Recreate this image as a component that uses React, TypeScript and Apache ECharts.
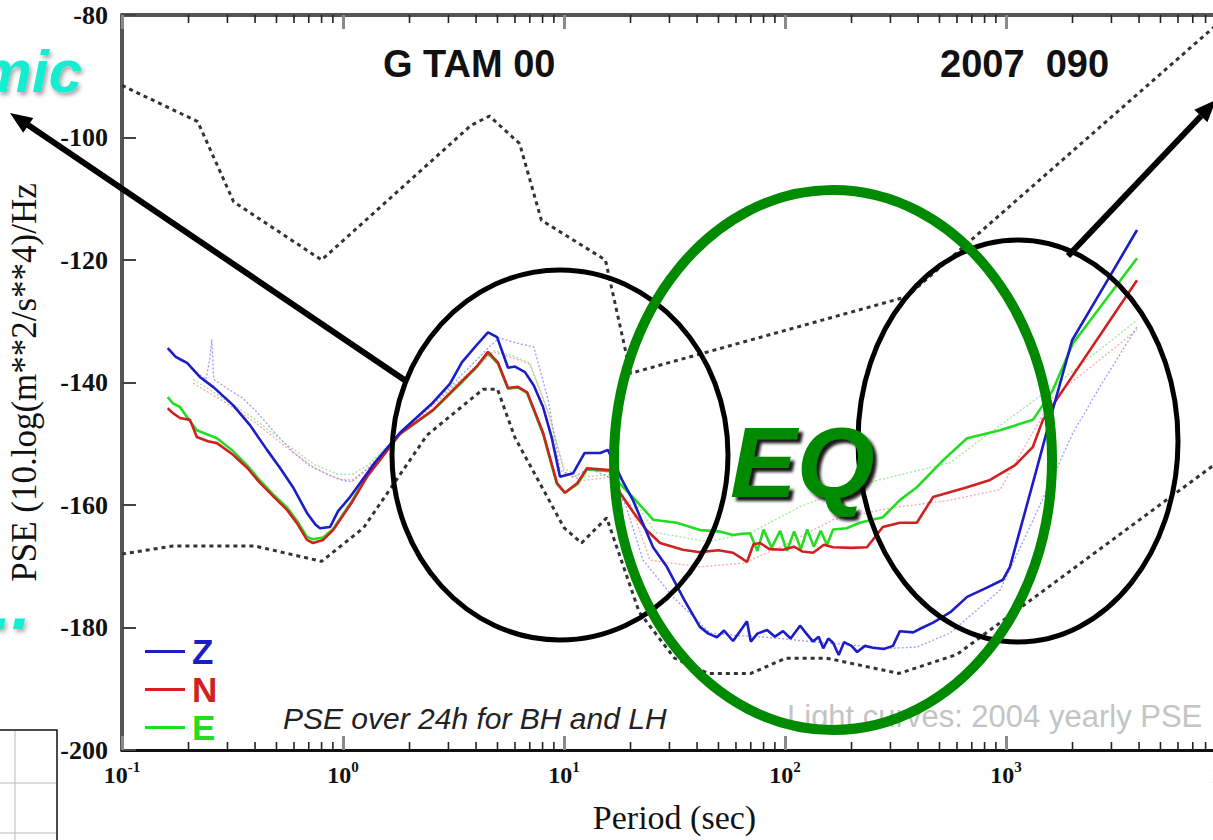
import React, { useEffect, useRef } from "react";
import * as echarts from "echarts";

// Peterson noise models (period s, dB)
const nhnm: [number, number][] = [
  [0.1, -91.5], [0.22, -97.4], [0.32, -110.5], [0.8, -120.0], [3.8, -98.0], [4.6, -96.5],
  [6.3, -101.0], [7.9, -113.5], [15.4, -120.0], [20, -138.5], [354.8, -126.0], [10000, -80.1],
];
const nlnm: [number, number][] = [
  [0.1, -168.0], [0.17, -166.7], [0.4, -166.7], [0.8, -169.2], [1.24, -163.7], [2.4, -148.6],
  [4.3, -141.1], [5.0, -141.1], [6.0, -149.0], [10, -163.7], [12, -166.2], [15.6, -162.1],
  [21.9, -177.5], [31.6, -185.0], [45, -187.5], [70, -187.5], [101, -185.0], [154, -185.0],
  [328, -187.5], [600, -184.4], [10000, -151.9],
];

const zCurve: [number, number][] = [
  [0.161, -134.4], [0.175, -135.8], [0.183, -136.2], [0.197, -136.8], [0.225, -139.1], [0.26, -140.8],
  [0.318, -143.7], [0.38, -147.0], [0.453, -151.0], [0.52, -154.0], [0.594, -157.1], [0.687, -161.3],
  [0.75, -163.2], [0.787, -163.8], [0.873, -163.6], [0.95, -161.0], [1.076, -158.7], [1.4, -153.0],
  [1.81, -148.2], [2.55, -143.3], [3.05, -140.2], [3.45, -136.7], [4.0, -134.0], [4.53, -131.8],
  [4.98, -132.6], [5.58, -137.6], [6.0, -137.4], [6.66, -138.3], [7.3, -140.5], [8.04, -144.0],
  [8.8, -149.0], [9.59, -155.4], [11.0, -154.8], [12.4, -151.5], [14.6, -151.5], [15.8, -151.0],
  [18.3, -155.9], [20.5, -159.2], [25.3, -166.9], [29.2, -170.1], [35, -175.5], [41.2, -179.9],
  [45, -181.0], [49.2, -181.6], [53, -180.5], [58.2, -182.2], [62, -180.8], [67.3, -179.0],
  [70, -182.3], [75, -181.0], [83, -180.4], [90, -181.5], [98, -180.6], [106, -181.8],
  [117, -179.7], [125, -181.0], [134, -182.3], [142, -181.5], [149, -183.4], [157, -181.8],
  [165, -182.5], [175, -184.5], [185, -182.4], [200, -183.0], [212, -184.0], [230, -183.0],
  [250, -183.3], [280, -183.5], [308, -183.0], [331, -180.6], [380, -180.8], [420, -180.0],
  [468, -179.2], [560, -177.5], [667, -175.0], [820, -173.5], [969, -172.2], [1042, -170.1],
  [1324, -156.4], [1581, -146.1], [1991, -133.1], [2661, -125.4], [3917, -115.1],
];

const nCurve: [number, number][] = [
  [0.161, -144.2], [0.17, -145.0], [0.183, -145.8], [0.203, -146.1], [0.218, -148.9], [0.245, -149.6],
  [0.269, -149.9], [0.318, -151.8], [0.37, -154.0], [0.421, -156.4], [0.49, -158.8], [0.558, -160.8],
  [0.62, -163.0], [0.687, -165.7], [0.731, -166.2], [0.813, -165.7], [0.902, -164.1], [1.1, -159.5],
  [1.285, -155.4], [1.81, -148.4], [2.55, -144.5], [3.38, -140.1], [4.0, -137.5], [4.53, -135.0],
  [5.02, -136.7], [5.58, -140.9], [6.19, -140.7], [6.81, -141.6], [8.04, -148.2], [9.29, -156.4],
  [10.1, -158.0], [11.5, -156.4], [12.7, -154.0], [16.1, -154.3], [17.9, -158.0], [20.5, -161.1],
  [23.5, -164.0], [27.2, -166.2], [34.5, -167.3], [41.2, -167.7], [50, -167.4], [58.2, -167.8],
  [63, -168.6], [67.3, -169.3], [72, -166.4], [77.1, -166.2], [85, -167.2], [98, -167.3],
  [110, -166.8], [120, -167.6], [134, -167.8], [150, -166.5], [165, -166.9], [200, -167.0],
  [235, -166.9], [277, -163.6], [331, -162.9], [395, -162.9], [421, -161.3], [468, -158.7],
  [667, -157.1], [847, -155.9], [1100, -153.5], [1324, -150.5], [1469, -146.1], [3917, -123.3],
];

const eCurve: [number, number][] = [
  [0.161, -142.4], [0.17, -143.4], [0.183, -144.0], [0.2, -146.0], [0.218, -147.8], [0.269, -149.1],
  [0.318, -151.2], [0.37, -153.6], [0.421, -156.0], [0.49, -158.5], [0.558, -160.4], [0.62, -162.6],
  [0.687, -165.2], [0.731, -165.6], [0.813, -165.3], [0.902, -163.9], [1.1, -159.3], [1.285, -155.2],
  [1.81, -148.4], [2.55, -144.6], [3.38, -140.3], [4.0, -137.6], [4.53, -135.2], [5.02, -136.9],
  [5.58, -141.0], [6.19, -140.8], [6.81, -141.7], [8.04, -148.4], [9.29, -156.6], [10.1, -158.0],
  [11.5, -156.6], [12.7, -154.2], [16.1, -154.5], [17.9, -156.5], [20.5, -158.7], [25.3, -162.4],
  [32.4, -162.9], [41.2, -164.1], [50, -164.3], [58.2, -164.9], [64, -164.7], [69.5, -164.6],
  [75, -167.5], [80, -164.0], [87, -167.0], [95, -164.2], [102, -167.5], [110, -164.3],
  [118, -167.2], [126, -164.0], [135, -166.8], [145, -164.2], [155, -166.5], [165, -164.0],
  [190, -163.8], [218, -162.9], [277, -162.0], [331, -159.2], [395, -157.1], [519, -152.7],
  [667, -149.1], [940, -147.8], [1324, -146.1], [1632, -141.2], [2010, -133.6], [3917, -119.7],
];

// 2004 yearly PSE ("light curves")
const lightZ: [number, number][] = [
  [0.21, -138.0], [0.24, -139.5], [0.25, -136.0], [0.255, -133.0], [0.26, -139.5], [0.3, -141.0],
  [0.35, -142.5], [0.4, -144.5], [0.5, -148.5], [0.6, -151.5], [0.7, -153.5], [0.85, -155.0],
  [1.0, -156.0], [1.1, -156.2], [1.3, -154.0], [1.8, -148.5], [3.0, -141.0], [4.5, -134.5],
  [5.1, -132.7], [6.0, -133.5], [7.3, -134.2], [8.5, -143.0], [9.6, -154.3], [11, -155.5],
  [13, -154.0], [16, -155.5], [19, -160.0], [22.8, -169.0], [31.1, -175.0], [45.8, -180.9],
  [60, -181.3], [83, -181.6], [150, -182.5], [299, -183.4], [395, -183.2], [558, -180.9],
  [940, -173.9], [1245, -164.6], [2010, -148.2], [2661, -140.7], [3917, -130.9],
];
const lightN: [number, number][] = [
  [0.21, -140.1], [0.3, -143.5], [0.4, -146.5], [0.55, -150.5], [0.75, -154.0], [0.95, -155.8],
  [1.1, -155.9], [1.3, -154.0], [1.8, -148.6], [3.0, -141.5], [4.8, -135.0], [5.7, -135.8],
  [7.0, -137.0], [8.5, -145.0], [10, -154.5], [12, -156.0], [16, -155.5], [20, -160.0],
  [24.5, -169.0], [41, -170.1], [65, -169.5], [100, -166.5], [165, -162.4], [300, -160.5],
  [558, -159.2], [940, -157.5], [1632, -142.4], [3917, -131.4],
];
const lightE: [number, number][] = [
  [0.21, -139.5], [0.3, -143.0], [0.4, -146.0], [0.55, -150.0], [0.75, -153.5], [0.95, -155.0],
  [1.1, -155.0], [1.3, -153.5], [1.8, -148.3], [3.0, -141.3], [4.8, -134.8], [5.7, -135.5],
  [7.0, -136.8], [8.5, -144.8], [10, -154.0], [12, -155.5], [16, -155.0], [20, -158.5],
  [26, -164.5], [45, -166.0], [70, -164.5], [117, -160.3], [195, -157.1], [558, -153.1],
  [940, -147.0], [1632, -140.7], [3917, -129.8],
];

const decades = [0.1, 1, 10, 100, 1000];
const minorMultipliers = [2, 3, 4, 5, 6, 7, 8, 9];
const minorTicks: number[] = [];
decades.forEach((d) => minorMultipliers.forEach((m) => minorTicks.push(d * m)));

const yTicks = { min: -200, max: -80, interval: 20 };

const SERIF = '"Liberation Serif", "Times New Roman", serif';
const SANS = '"Liberation Sans", Arial, sans-serif';

const colZ = "#1c1cc8";
const colN = "#d02020";
const colE = "#22dd22";

function buildOption(): any {
  const dotted = (data: [number, number][]) => ({
    type: "line",
    data,
    symbol: "none",
    silent: true,
    z: 3,
    lineStyle: { color: "#333", width: 3, type: [4, 4] },
  });
  const light = (name: string, data: [number, number][], color: string) => ({
    type: "line",
    name,
    data,
    symbol: "none",
    silent: true,
    z: 2,
    lineStyle: { color, width: 1.3, type: [2, 2], opacity: 0.7 },
  });
  const solid = (name: string, data: [number, number][], color: string, z: number) => ({
    type: "line",
    name,
    data,
    symbol: "none",
    color,
    silent: true,
    z,
    lineStyle: { color, width: 2.6 },
  });

  const xCommon = {
    type: "log",
    logBase: 10,
    min: 0.1,
    max: 10000,
    splitLine: { show: false },
    axisTick: { show: true, inside: true, length: 14, lineStyle: { color: "#8a8a8a", width: 3 } },
  };

  return {
    animation: false,
    backgroundColor: "#ffffff",
    grid: { left: 122, top: 15, right: -14, bottom: 90, containLabel: false, outerBoundsMode: "none" },
    legend: {
      orient: "vertical",
      left: 140,
      top: 629,
      itemWidth: 40,
      itemHeight: 3,
      itemGap: 3,
      icon: "rect",
      selectedMode: false,
      textStyle: { fontSize: 35, fontWeight: "bold", fontFamily: SANS, lineHeight: 34, padding: [0, 0, 0, 2] },
      data: [
        { name: "Z", textStyle: { color: colZ } },
        { name: "N", textStyle: { color: colN } },
        { name: "E", textStyle: { color: colE } },
      ],
    },
    xAxis: [
      {
        ...xCommon,
        position: "bottom",
        name: "Period (sec)",
        nameLocation: "middle",
        nameGap: 50,
        nameTextStyle: { fontFamily: SERIF, fontSize: 34, color: "#111" },
        axisLine: { show: true, onZero: false, lineStyle: { color: "#111", width: 3 } },
        axisLabel: {
          margin: 9,
          formatter: (v: number) => `{b|10}{s|${Math.round(Math.log10(v))}}`,
          rich: {
            b: { fontFamily: SERIF, fontWeight: "bold", fontSize: 24, color: "#111" },
            s: { fontFamily: SERIF, fontWeight: "bold", fontSize: 15, color: "#111", padding: [0, 0, 16, 0] },
          },
        },
      },
      {
        ...xCommon,
        position: "top",
        axisLine: { show: true, onZero: false, lineStyle: { color: "#555", width: 4 } },
        axisLabel: { show: false },
      },
    ],
    yAxis: {
      type: "value",
      min: yTicks.min,
      max: yTicks.max,
      interval: yTicks.interval,
      name: "PSE (10.log(m**2/s**4)/Hz",
      nameLocation: "middle",
      nameGap: 80,
      nameTextStyle: { fontFamily: SERIF, fontSize: 35, color: "#111" },
      splitLine: { show: false },
      axisLine: { show: true, onZero: false, lineStyle: { color: "#555", width: 4 } },
      axisTick: { show: true, inside: true, length: 14, lineStyle: { color: "#444", width: 2 } },
      axisLabel: { margin: 14, fontFamily: SERIF, fontWeight: "bold", fontSize: 26, color: "#111" },
    },
    series: [
      {
        type: "custom",
        silent: true,
        clip: false,
        z: 4,
        data: minorTicks.map((v) => [v, yTicks.min]),
        encode: { x: 0, y: 1 },
        renderItem: (params: any, api: any) => {
          const v = api.value(0);
          const b = api.coord([v, yTicks.min]);
          const t = api.coord([v, yTicks.max]);
          return {
            type: "group",
            children: [
              { type: "line", shape: { x1: b[0], y1: b[1], x2: b[0], y2: b[1] - 8 }, style: { stroke: "#222", lineWidth: 1.6 } },
              { type: "line", shape: { x1: t[0], y1: t[1], x2: t[0], y2: t[1] + 8 }, style: { stroke: "#222", lineWidth: 1.6 } },
            ],
          };
        },
      },
      dotted(nhnm),
      dotted(nlnm),
      light("Z 2004", lightZ, "#7070ff"),
      light("N 2004", lightN, "#ff8080"),
      light("E 2004", lightE, "#70e070"),
      solid("E", eCurve, colE, 5),
      solid("N", nCurve, colN, 6),
      solid("Z", zCurve, colZ, 7),
    ],
    graphic: {
      elements: [
        // small frame from neighbouring figure (bottom-left)
        { type: "rect", z: 50, shape: { x: -5, y: 730, width: 62, height: 115 }, style: { fill: "#fff", stroke: "#111", lineWidth: 1.5 } },
        { type: "line", z: 51, shape: { x1: 15, y1: 731, x2: 15, y2: 840 }, style: { stroke: "#bbb", lineWidth: 1 } },
        { type: "line", z: 51, shape: { x1: -5, y1: 783, x2: 56, y2: 783 }, style: { stroke: "#bbb", lineWidth: 1 } },
        { type: "line", z: 51, shape: { x1: -5, y1: 833, x2: 56, y2: 833 }, style: { stroke: "#bbb", lineWidth: 1 } },
        // header texts
        { type: "text", z: 50, style: { text: "G TAM 00", x: 383, y: 64, verticalAlign: "middle", font: `bold 38px ${SANS}`, fill: "#111" } },
        { type: "text", z: 50, style: { text: "2007  090", x: 940, y: 64, verticalAlign: "middle", font: `bold 38px ${SANS}`, fill: "#111" } },
        // in-plot notes
        { type: "text", z: 50, style: { text: "PSE over 24h for BH and LH", x: 283, y: 718, verticalAlign: "middle", font: `italic 30px ${SANS}`, fill: "#222" } },
        { type: "text", z: 50, style: { text: "Light curves: 2004 yearly PSE", x: 787, y: 716, verticalAlign: "middle", font: `31px ${SANS}`, fill: "#c4c4c4" } },
        // cyan fragments
        {
          type: "text", z: 61,
          style: {
            text: "mic", x: 82, y: 71, align: "right", verticalAlign: "middle", font: `italic bold 60px ${SANS}`, fill: "#14ecd2",
            textShadowColor: "rgba(0,0,0,0.35)", textShadowBlur: 4, textShadowOffsetX: 2, textShadowOffsetY: 3,
          },
        },
        {
          type: "text", z: 61,
          style: {
            text: "..", x: -8, y: 605, verticalAlign: "middle", font: `italic bold 70px ${SANS}`, fill: "#14ecd2",
            textShadowColor: "rgba(0,0,0,0.3)", textShadowBlur: 4, textShadowOffsetX: 2, textShadowOffsetY: 3,
          },
        },
        // ellipses
        { type: "ellipse", z: 80, shape: { cx: 560, cy: 455, rx: 168, ry: 185 }, style: { fill: "none", stroke: "#000", lineWidth: 5 } },
        { type: "ellipse", z: 80, shape: { cx: 1018, cy: 441, rx: 160, ry: 201 }, style: { fill: "none", stroke: "#000", lineWidth: 5 } },
        { type: "ellipse", z: 81, shape: { cx: 833, cy: 460, rx: 219, ry: 270 }, style: { fill: "none", stroke: "#008a00", lineWidth: 10 } },
        // arrows
        { type: "line", z: 82, shape: { x1: 406, y1: 381, x2: 28, y2: 125 }, style: { stroke: "#000", lineWidth: 6 } },
        { type: "polygon", z: 82, shape: { points: [[10, 113], [33.3, 117.9], [23.2, 132.8]] }, style: { fill: "#000" } },
        { type: "line", z: 82, shape: { x1: 1068, y1: 256, x2: 1201, y2: 116 }, style: { stroke: "#000", lineWidth: 6 } },
        { type: "polygon", z: 82, shape: { points: [[1216, 100], [1207.4, 122.2], [1194.4, 109.8]] }, style: { fill: "#000" } },
        // EQ label with dark drop shadow
        {
          type: "text", z: 91,
          style: {
            text: "EQ", x: 730, y: 462, verticalAlign: "middle", font: `italic bold 100px ${SANS}`, fill: "#008a00",
            textShadowColor: "rgba(0,0,0,0.9)", textShadowBlur: 3, textShadowOffsetX: 4, textShadowOffsetY: 4,
          },
        },
      ],
    },
  };
}

export default function App() {
  const ref = useRef<HTMLDivElement>(null);
  useEffect(() => {
    if (!ref.current) return;
    const chart = echarts.init(ref.current, null, { renderer: "svg" });
    chart.setOption(buildOption());
    return () => chart.dispose();
  }, []);
  return (
    <div
      ref={ref}
      style={{ position: "fixed", left: 0, top: 0, width: 1213, height: 840, background: "#fff", overflow: "hidden" }}
    />
  );
}
